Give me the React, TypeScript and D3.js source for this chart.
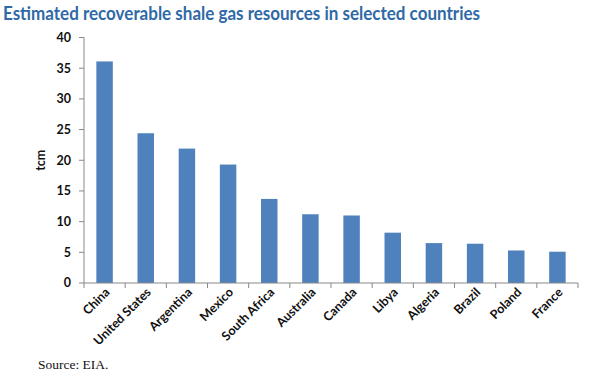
import * as d3 from 'd3';
import React from 'react';

const countries = ['China', 'United States', 'Argentina', 'Mexico', 'South Africa', 'Australia', 'Canada', 'Libya', 'Algeria', 'Brazil', 'Poland', 'France'];
const resources = [36.1, 24.4, 21.9, 19.3, 13.7, 11.2, 11.0, 8.2, 6.5, 6.4, 5.3, 5.1];
const yTicks = [0, 5, 10, 15, 20, 25, 30, 35, 40];

const W = 609;
const H = 373;
const margin = { top: 37.5, right: 31, bottom: 90, left: 84 };

export default function App() {
  const x = d3
    .scaleBand<string>()
    .domain(countries)
    .range([margin.left, W - margin.right])
    .paddingInner(0.6)
    .paddingOuter(0.3);
  const y = d3.scaleLinear().domain([0, 40]).range([H - margin.bottom, margin.top]);
  const step = x.step();
  const x0 = margin.left;
  const x1 = W - margin.right;
  const y0 = y(0);
  const font = 'Lato, "Open Sans", sans-serif';

  return (
    <svg width={W} height={H} style={{ position: 'absolute', left: 0, top: 0 }}>
      <rect width={W} height={H} fill="#fff" />
      <text x={3} y={20} fontFamily={font} fontWeight={700} fontSize={19.5} fill="#2f69a6" textLength={477} lengthAdjust="spacingAndGlyphs">
        Estimated recoverable shale gas resources in selected countries
      </text>

      {/* y axis */}
      <line x1={x0} x2={x0} y1={y(40)} y2={y0} stroke="#888" />
      {yTicks.map((t) => (
        <g key={t}>
          <line x1={x0 - 5} x2={x0} y1={y(t)} y2={y(t)} stroke="#888" />
          <text x={71} y={y(t)} dy="0.35em" textAnchor="end" fontFamily={font} fontWeight={700} fontSize={12.5} fill="#111">
            {t}
          </text>
        </g>
      ))}
      <text transform={`translate(45,${(y(0) + y(40)) / 2}) rotate(-90)`} textAnchor="middle" fontFamily={font} fontWeight={700} fontSize={12.5} fill="#111">
        tcm
      </text>

      {/* bars */}
      {countries.map((c, i) => (
        <rect key={c} x={x(c)} y={y(resources[i])} width={x.bandwidth()} height={y0 - y(resources[i])} fill="#4f81bd" />
      ))}

      {/* x axis */}
      <line x1={x0} x2={x1} y1={y0} y2={y0} stroke="#888" />
      {d3.range(countries.length + 1).map((i) => (
        <line key={i} x1={x0 + i * step} x2={x0 + i * step} y1={y0} y2={y0 + 5} stroke="#888" />
      ))}
      {countries.map((c) => {
        const cx = (x(c) as number) + x.bandwidth() / 2 + 6;
        return (
          <text key={c} transform={`translate(${cx},${y0 + 10}) rotate(-45)`} textAnchor="end" fontFamily={font} fontWeight={700} fontSize={12.5} fill="#111">
            {c}
          </text>
        );
      })}

      <text x={38} y={369} fontFamily='"Liberation Serif", "Times New Roman", serif' fontSize={13.5} fill="#111">
        Source: EIA.
      </text>
    </svg>
  );
}
